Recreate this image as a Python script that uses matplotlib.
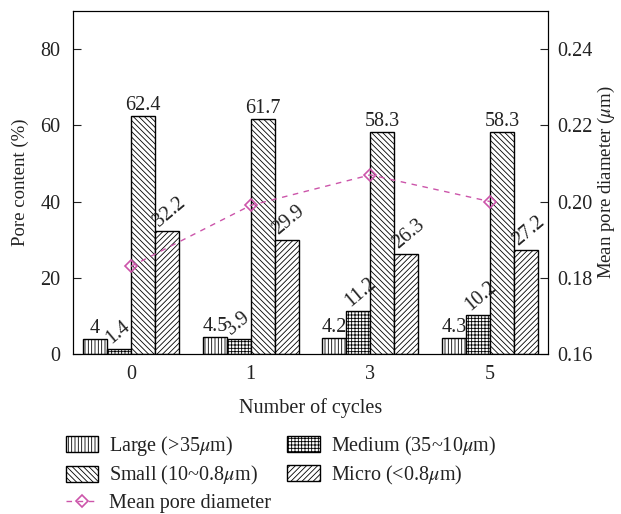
import matplotlib
matplotlib.use("Agg")
import matplotlib.pyplot as plt
import numpy as np

plt.rcParams['font.family'] = ['Liberation Serif', 'DejaVu Serif']
plt.rcParams['mathtext.fontset'] = 'stix'
plt.rcParams['hatch.linewidth'] = 0.6
plt.rcParams['text.color'] = '#222222'
plt.rcParams['axes.labelcolor'] = '#222222'
plt.rcParams['xtick.color'] = '#222222'
plt.rcParams['ytick.color'] = '#222222'

cycles = ['0', '1', '3', '5']
large = [4, 4.5, 4.2, 4.3]
medium = [1.4, 3.9, 11.2, 10.2]
small = [62.4, 61.7, 58.3, 58.3]
micro = [32.2, 29.9, 26.3, 27.2]
mean_diam = [0.183, 0.199, 0.207, 0.200]

series = [
    (large, 'Large (>35$\\mu$m)', '|||||', 0),
    (medium, 'Medium (35~10$\\mu$m)', '+++++', 40),
    (small, 'Small (10~0.8$\\mu$m)', '\\\\\\\\\\\\', 0),
    (micro, 'Micro (<0.8$\\mu$m)', '//////', 40),
]

fs = 14.5
fsl = 13.5
fig = plt.figure(figsize=(6.21, 5.14), dpi=100)
ax = fig.add_axes([73/621, 1-354/514, (548-73)/621, (354-11)/514])
x = np.arange(len(cycles))
w = 0.2
handles = []
for i, (vals, lab, hatch, rot) in enumerate(series):
    pos = x + (i - 1.5) * w
    b = ax.bar(pos, vals, width=w, color='white', edgecolor='black', hatch=hatch,
               linewidth=1.0, label=lab)
    handles.append(b)
    for p, v in zip(pos, vals):
        txt = f'{v:g}'
        if rot == 0:
            ax.text(p, v + 0.2, txt, ha='center', va='bottom', fontsize=fs)
        else:
            ax.text(p - w/2 + 0.06, v + 0.2, txt, ha='left', va='bottom', fontsize=fs,
                    rotation=rot, rotation_mode='anchor')

ax.set_xlim(-0.485, 3.485)
ax.set_ylim(0, 90)
ax.set_yticks([0, 20, 40, 60, 80])
ax.set_xticks(x)
ax.set_xticklabels(cycles)
ax.tick_params(axis='y', direction='in', length=6, labelsize=fs, pad=9)
ax.tick_params(axis='x', length=0, labelsize=fs, pad=8)
ax.set_ylabel('Pore content (%)', fontsize=fsl, labelpad=8)
ax.set_xlabel('Number of cycles', fontsize=fs, labelpad=10)

ax2 = ax.twinx()
ax2.set_ylim(0.16, 0.25)
ax2.set_yticks([0.16, 0.18, 0.20, 0.22, 0.24])
ax2.set_yticklabels(['0.16', '0.18', '0.20', '0.22', '0.24'])
ax2.tick_params(axis='y', direction='in', length=6, labelsize=fs, pad=7)
ax2.set_ylabel('Mean pore diameter ($\\mu$m)', fontsize=fsl, labelpad=2)
ln, = ax2.plot(x, mean_diam, linestyle=(0, (4, 4)), color='#cc55aa', linewidth=1.0,
               marker='D', markersize=6.5, markerfacecolor='none', markeredgecolor='#cc55aa',
               markeredgewidth=1.2, label='Mean pore diameter')

order = [handles[0], handles[2], ln, handles[1], handles[3]]
fig.legend(order, [h.get_label() for h in order], ncol=2, frameon=False,
           loc='upper left', bbox_to_anchor=(66/621, 1-434/514), fontsize=fs,
           borderpad=0, borderaxespad=0,
           handlelength=1.6, handleheight=0.85, columnspacing=0.8, labelspacing=0.3,
           handletextpad=0.55)

fig.savefig('out.png', dpi=100)
